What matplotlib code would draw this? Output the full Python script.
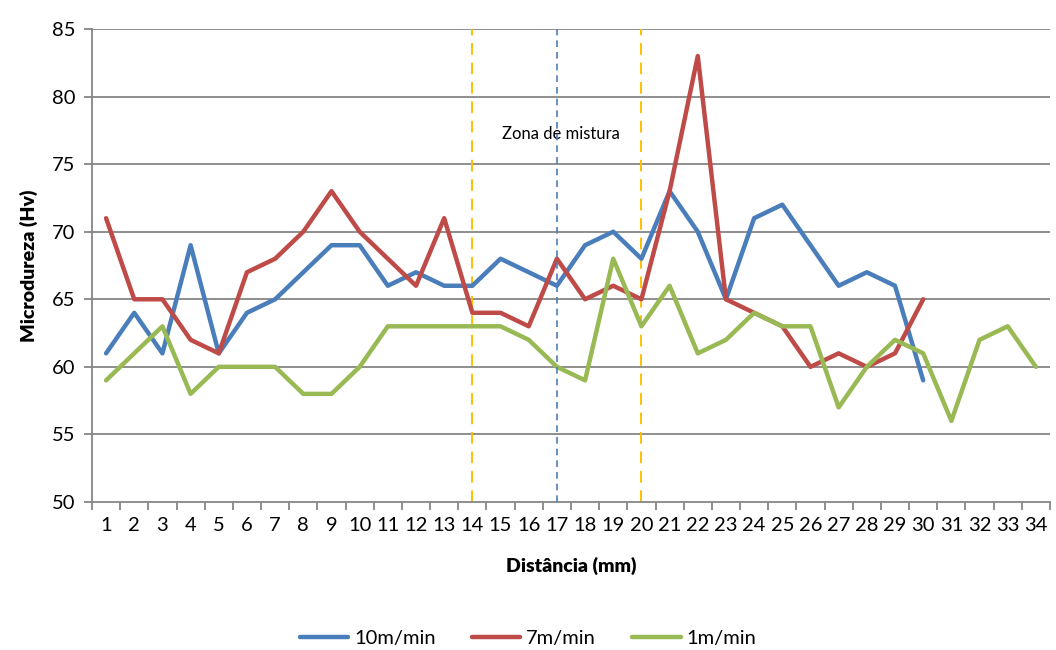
import matplotlib
matplotlib.use("Agg")
import matplotlib.pyplot as plt
import numpy as np

plt.rcParams['font.family'] = ['Lato', 'DejaVu Sans']

distance = list(range(1, 35))
v10 = [61, 64, 61, 69, 61, 64, 65, 67, 69, 69, 66, 67, 66, 66, 68, 67, 66, 69, 70, 68,
       73, 70, 65, 71, 72, 69, 66, 67, 66, 59]
v7 = [71, 65, 65, 62, 61, 67, 68, 70, 73, 70, 68, 66, 71, 64, 64, 63, 68, 65, 66, 65,
      73, 83, 65, 64, 63, 60, 61, 60, 61, 65]
v1 = [59, 61, 63, 58, 60, 60, 60, 58, 58, 60, 63, 63, 63, 63, 63, 62, 60, 59, 68, 63,
      66, 61, 62, 64, 63, 63, 57, 60, 62, 61, 56, 62, 63, 60]
series_names = ["10m/min", "7m/min", "1m/min"]
zone_edges = [14, 20]
zone_center = 17
zone_label = "Zona de mistura"

fig = plt.figure(figsize=(10.56, 6.5), dpi=100)
ax = fig.add_axes([0.0871, 0.2277, 0.9072, 0.7277])

grid_c = "#868686"
for y in range(55, 90, 5):
    ax.axhline(y, color=grid_c, lw=1.3, zorder=1)

c_blue, c_red, c_green = "#4A7EBB", "#BE4B48", "#98B954"
lw = 3.2
ax.plot(distance[:len(v10)], v10, color=c_blue, lw=lw, label=series_names[0], zorder=3, solid_joinstyle='round', solid_capstyle='round')
ax.plot(distance[:len(v7)], v7, color=c_red, lw=lw, label=series_names[1], zorder=3, solid_joinstyle='round', solid_capstyle='round')
ax.plot(distance[:len(v1)], v1, color=c_green, lw=lw, label=series_names[2], zorder=3, solid_joinstyle='round', solid_capstyle='round')

for xe in zone_edges:
    ax.axvline(xe, color="#FFC000", lw=1.4, ls=(0, (6, 4)), zorder=2)
ax.axvline(zone_center, color="#4A7EBB", lw=1.2, ls=(0, (4, 3)), zorder=4)
ax.text(zone_center + 0.15, 77.2, zone_label, ha="center", va="center", fontsize=12, color="#000000", zorder=2)

ax.set_xlim(0.5, 34.5)
ax.set_ylim(50, 85)
ax.set_yticks(range(50, 90, 5))
ax.set_xticks(distance)
ax.set_xticklabels([str(d) for d in distance])
ax.set_xticks(np.arange(0.5, 35, 1), minor=True)
ax.tick_params(axis='x', which='major', length=0, labelsize=14.5, pad=11)
ax.tick_params(axis='x', which='minor', length=6, color=grid_c, width=1.3)
ax.tick_params(axis='y', length=6, color=grid_c, width=1.3, labelsize=14.5, pad=6)

for s in ["top", "right"]:
    ax.spines[s].set_visible(False)
for s in ["left", "bottom"]:
    ax.spines[s].set_color(grid_c)
    ax.spines[s].set_linewidth(1.3)

ax.set_xlabel("Distância (mm)", fontsize=14, fontweight="heavy", labelpad=16)
ax.set_ylabel("Microdureza (Hv)", fontsize=14, fontweight="heavy", labelpad=10)

leg = fig.legend(loc="center", bbox_to_anchor=(0.5, 0.018), ncol=3, frameon=False,
                 fontsize=14.5, handlelength=2.4, columnspacing=1.8, handletextpad=0.3)

fig.savefig("out.png", dpi=100)
